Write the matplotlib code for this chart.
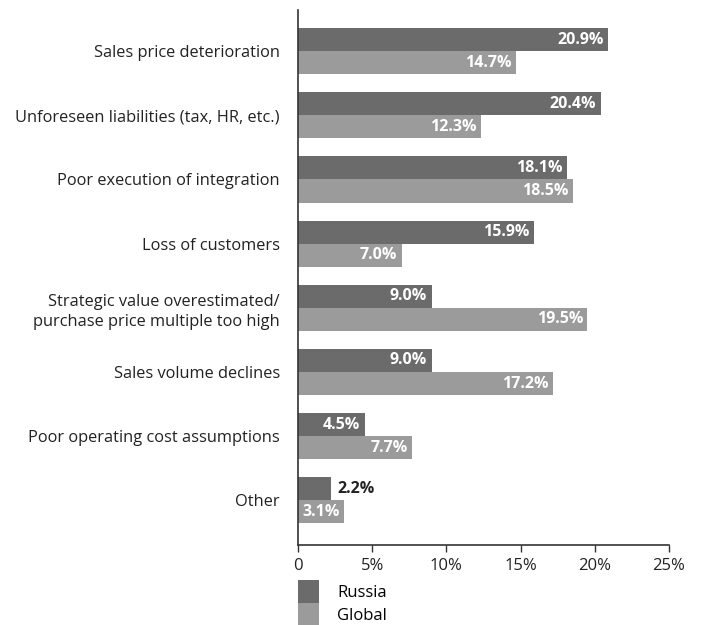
import matplotlib
matplotlib.use("Agg")
import matplotlib.pyplot as plt
from matplotlib.patches import Patch

plt.rcParams['font.family'] = ['Open Sans', 'DejaVu Sans']

categories = [
    "Sales price deterioration",
    "Unforeseen liabilities (tax, HR, etc.)",
    "Poor execution of integration",
    "Loss of customers",
    "Strategic value overestimated/\npurchase price multiple too high",
    "Sales volume declines",
    "Poor operating cost assumptions",
    "Other",
]
russia = [20.9, 20.4, 18.1, 15.9, 9.0, 9.0, 4.5, 2.2]
global_ = [14.7, 12.3, 18.5, 7.0, 19.5, 17.2, 7.7, 3.1]
series_names = ["Russia", "Global"]
xticks = [0, 5, 10, 15, 20, 25]
xticklabels = ["0", "5%", "10%", "15%", "20%", "25%"]

dark = "#6b6b6b"
light = "#9b9b9b"
text_color = "#222222"

fig = plt.figure(figsize=(7.04, 6.25), dpi=100)
ax = fig.add_axes([0.4233, 0.128, 0.5270, 0.856])

h = 0.36
ys = list(range(len(categories)))
ax.barh([y - h / 2 for y in ys], russia, height=h, color=dark, label=series_names[0])
ax.barh([y + h / 2 for y in ys], global_, height=h, color=light, label=series_names[1])

vfs = 11.5
for y, v in zip(ys, russia):
    lbl = f"{v:.1f}%"
    if v < 2.5:
        ax.text(v + 0.45, y - h / 2, lbl, ha="left", va="center",
                fontsize=vfs, fontweight="bold", color=text_color)
    else:
        ax.text(v - 0.3, y - h / 2, lbl, ha="right", va="center",
                fontsize=vfs, fontweight="bold", color="white")
for y, v in zip(ys, global_):
    lbl = f"{v:.1f}%"
    ax.text(v - 0.3, y + h / 2, lbl, ha="right", va="center",
            fontsize=vfs, fontweight="bold", color="white")

ax.set_xlim(0, 25)
ax.set_ylim(7.695, -0.64)
ax.set_xticks(xticks)
ax.set_xticklabels(xticklabels, fontsize=12, color=text_color)
ax.set_yticks(ys)
ax.set_yticklabels(categories, fontsize=11.8, color=text_color, linespacing=1.35)
ax.tick_params(axis="y", length=0, pad=13)
ax.tick_params(axis="x", length=5, width=1, color="#333333", pad=4, direction="out")
for s in ("top", "right"):
    ax.spines[s].set_visible(False)
for s in ("left", "bottom"):
    ax.spines[s].set_color("#333333")
    ax.spines[s].set_linewidth(1.2)

handles = [Patch(facecolor=dark, edgecolor="none"), Patch(facecolor=light, edgecolor="none")]
ax.legend(handles, series_names, loc="upper left", bbox_to_anchor=(0.0, -0.066),
          frameon=False, fontsize=12, handlelength=1.25, handleheight=1.75,
          labelspacing=0.0, handletextpad=1.1, borderpad=0, borderaxespad=0)

fig.savefig("out.png", dpi=100)
